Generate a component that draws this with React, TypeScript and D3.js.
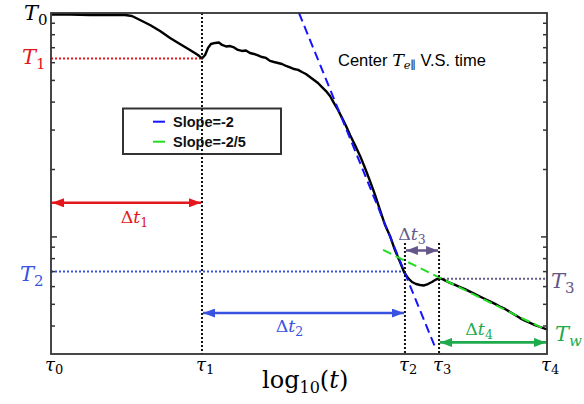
import React from 'react';
import * as d3 from 'd3';

// Centre parallel electron temperature vs. log10(t)
const logTime = [
  0.005, 0.104, 0.214, 0.324, 0.406, 0.444, 0.488, 0.543, 0.598, 0.653, 0.707, 0.762, 0.806, 0.828,
  0.845, 0.861, 0.877, 0.9, 0.921, 0.938, 0.96, 0.982, 1.004, 1.025, 1.047, 1.069, 1.091, 1.113,
  1.135, 1.157, 1.179, 1.201, 1.223, 1.245, 1.267, 1.289, 1.311, 1.333, 1.355, 1.376, 1.398, 1.42,
  1.442, 1.464, 1.486, 1.508, 1.53, 1.552, 1.574, 1.596, 1.618, 1.64, 1.667, 1.695, 1.722, 1.749,
  1.777, 1.804, 1.832, 1.859, 1.886, 1.914, 1.936, 1.958, 1.98, 2.002, 2.024, 2.046, 2.067, 2.089,
  2.111, 2.128, 2.144, 2.166, 2.188, 2.216, 2.243, 2.27, 2.298, 2.325, 2.352, 2.38, 2.407, 2.435,
  2.462, 2.49, 2.517, 2.545, 2.572, 2.599, 2.627, 2.654, 2.682, 2.72,
];
const tempCenter = [
  98.5, 98.5, 98.0, 98.0, 98.0, 97.0, 93.1, 88.4, 83.1, 77.3, 72.7, 68.4, 64.9, 62.7,
  64.9, 69.8, 72.7, 73.5, 73.8, 72.0, 70.9, 71.2, 70.2, 68.4, 67.7, 68.0, 66.3, 65.6,
  64.6, 63.6, 63.0, 61.1, 60.4, 59.8, 59.2, 58.0, 57.1, 56.2, 55.7, 54.5, 53.4, 51.8,
  50.2, 48.7, 46.7, 44.8, 42.6, 39.6, 36.9, 34.0, 31.3, 28.5, 25.7, 23.0, 20.3, 17.8,
  15.4, 13.2, 11.3, 10.1, 8.74, 7.73, 6.97, 6.55, 6.29, 6.16, 6.1, 6.07, 6.16, 6.29,
  6.45, 6.55, 6.49, 6.36, 6.23, 6.1, 5.97, 5.85, 5.7, 5.56, 5.42, 5.28, 5.15, 5.02,
  4.89, 4.77, 4.62, 4.48, 4.34, 4.23, 4.13, 4.04, 3.96, 3.86,
];

// Characteristic times (log10 t) and temperatures
const tauValues = [0, 0.828, 1.941, 2.128, 2.72];
const tauNames = ['0', '1', '2', '3', '4'];
const T1 = 62.7;
const T2 = 7.0;
const T3 = 6.5;
const Tw = 3.86;

// Power-law fits: log10 T = log10(anchorT) + slope * (logt - anchorLogT)
const fitLabels = ['Slope=-2', 'Slope=-2/5'];
const fitSlopes = [-2, -0.4];
const fitAnchorLogT = [1.36, 1.821];
const fitAnchorT = [100, 8.75];
const fitEndLogT = [2.11, 2.72];
const fitColors = ['#1414ff', '#22dd22'];

// Interval arrows: [from tau index, to tau index, temperature level]
const intervalFrom = [0, 1, 2, 3];
const intervalTo = [1, 2, 3, 4];
const intervalLevel = [14.2, 4.57, 8.7, 3.38];
const intervalNames = ['1', '2', '3', '4'];

const yTickValues = [4, 5, 6, 7, 8, 9, 10, 20, 30, 40, 50, 60, 70, 80, 90];

const RED = '#e4171d';
const BLUE = '#3852e2';
const PURPLE = '#65578a';
const GREEN = '#1fab4c';
const intervalColors = [RED, BLUE, PURPLE, GREEN];

const SERIF = "'DejaVu Serif', serif";
const SANS = "'Liberation Sans', Arial, sans-serif";

export default function App() {
  const x = d3.scaleLinear().domain([0, 2.72]).range([51, 547]);
  const y = d3.scaleLog().domain([3, 100]).range([354, 13]);
  const [x0, x1] = x.range();
  const [yb, yt] = y.range();

  const curve = d3
    .line<number>()
    .x((_, i) => x(logTime[i]))
    .y((_, i) => y(tempCenter[i]))(logTime);

  const fitLine = (k: number) => {
    const pts = [fitAnchorLogT[k], fitEndLogT[k]];
    return d3
      .line<number>()
      .x((t) => x(t))
      .y((t) => y(fitAnchorT[k] * Math.pow(10, fitSlopes[k] * (t - fitAnchorLogT[k]))))(pts);
  };

  const dotted = { stroke: '#111', strokeWidth: 2, strokeDasharray: '2,2' };

  const deltaLabelDx = [8, -14, -10, -14];
  const deltaLabelDy = [20, 19, -10, -7];

  const tLabel = (
    sub: string,
    color: string,
    px: number,
    py: number,
    key: string,
    subFont = 15
  ) => (
    <text key={key} x={px} y={py} fill={color} fontFamily={SERIF} fontSize={21} fontStyle="italic">
      T
      <tspan dy={5} fontSize={subFont} fontStyle={sub === 'w' ? 'italic' : 'normal'}>
        {sub}
      </tspan>
    </text>
  );

  return (
    <svg
      width={584}
      height={404}
      style={{ position: 'absolute', left: 0, top: 0, background: '#fff' }}
    >
      <defs>
        {intervalColors.map((c, i) => (
          <marker
            key={i}
            id={`arr${i}`}
            viewBox="0 0 12 9"
            refX={12}
            refY={4.5}
            markerWidth={12}
            markerHeight={9}
            markerUnits="userSpaceOnUse"
            orient="auto-start-reverse"
          >
            <path d="M0,0 L12,4.5 L0,9 Z" fill={c} />
          </marker>
        ))}
      </defs>

      {/* horizontal reference levels */}
      <line x1={x0} x2={x(tauValues[1])} y1={y(T1)} y2={y(T1)} stroke={RED} strokeWidth={2} strokeDasharray="2,2" />
      <line x1={x0} x2={x(tauValues[2])} y1={y(T2)} y2={y(T2)} stroke={BLUE} strokeWidth={2} strokeDasharray="2,2" />
      <line x1={x(tauValues[3])} x2={x1} y1={y(T3)} y2={y(T3)} stroke={PURPLE} strokeWidth={2} strokeDasharray="2,2" />

      {/* measured curve */}
      <path d={curve || ''} fill="none" stroke="#000" strokeWidth={2.4} strokeLinejoin="round" />

      {/* fits */}
      {fitLabels.map((_, k) => (
        <path key={k} d={fitLine(k) || ''} fill="none" stroke={fitColors[k]} strokeWidth={2} strokeDasharray="9,5" />
      ))}

      {/* legend */}
      <rect x={123} y={108.5} width={158} height={45.5} fill="#fff" stroke="#333" strokeWidth={2} />
      {fitLabels.map((lab, k) => (
        <g key={lab}>
          <line x1={153} x2={165} y1={121.7 + k * 20} y2={121.7 + k * 20} stroke={fitColors[k]} strokeWidth={2} />
          <text x={173} y={126.5 + k * 20} fontFamily={SANS} fontWeight="bold" fontSize={14.5} fill="#111">
            {lab}
          </text>
        </g>
      ))}

      {/* tau markers */}
      <line x1={x(tauValues[1])} x2={x(tauValues[1])} y1={yt} y2={yb} {...dotted} />
      <line x1={x(tauValues[2])} x2={x(tauValues[2])} y1={y(9.4)} y2={yb} {...dotted} />
      <line x1={x(tauValues[3])} x2={x(tauValues[3])} y1={y(9.4)} y2={yb} {...dotted} />

      {/* frame */}
      <rect x={x0} y={yt} width={x1 - x0} height={yb - yt} fill="none" stroke="#333" strokeWidth={1.8} />
      {yTickValues.map((v) => {
        const len = v === 10 ? 6 : 4;
        return (
          <g key={v}>
            <line x1={x0} x2={x0 + len} y1={y(v)} y2={y(v)} stroke="#333" strokeWidth={1.5} />
            <line x1={x1} x2={x1 - len} y1={y(v)} y2={y(v)} stroke="#333" strokeWidth={1.5} />
          </g>
        );
      })}

      {/* interval arrows */}
      {intervalFrom.map((f, i) => {
        const xa = x(tauValues[f]);
        const xb = x(tauValues[intervalTo[i]]);
        const ya = y(intervalLevel[i]);
        return (
          <g key={i}>
            <line
              x1={xa + 1}
              x2={xb - 1}
              y1={ya}
              y2={ya}
              stroke={intervalColors[i]}
              strokeWidth={2.6}
              markerStart={`url(#arr${i})`}
              markerEnd={`url(#arr${i})`}
            />
            <text
              x={(xa + xb) / 2 + deltaLabelDx[i]}
              y={ya + deltaLabelDy[i]}
              textAnchor="middle"
              fill={intervalColors[i]}
              fontFamily={SERIF}
              fontSize={17.5}
            >
              Δ<tspan fontStyle="italic">t</tspan>
              <tspan dy={4} fontSize={12.5}>
                {intervalNames[i]}
              </tspan>
            </text>
          </g>
        );
      })}

      {/* temperature labels */}
      {tLabel('0', '#000', 24, y(98.5) + 6, 'T0')}
      {tLabel('1', RED, 22, y(T1) + 6, 'T1')}
      {tLabel('2', BLUE, 20, y(T2) + 9, 'T2')}
      {tLabel('3', PURPLE, 551, y(T3) + 9, 'T3')}
      {tLabel('w', GREEN, 555, y(Tw) + 12, 'Tw')}

      {/* tau tick labels */}
      {tauValues.map((t, i) => (
        <text key={i} x={x(t) - 6} y={371} fontFamily={SERIF} fontSize={18} fill="#000">
          <tspan fontStyle="italic">τ</tspan>
          <tspan dy={3} fontSize={13}>
            {tauNames[i]}
          </tspan>
        </text>
      ))}

      {/* axis title */}
      <text x={262} y={388} fontFamily={SERIF} fontSize={24} fill="#000">
        log
        <tspan dy={5} fontSize={16}>
          10
        </tspan>
        <tspan dy={-5}>(</tspan>
        <tspan fontStyle="italic">t</tspan>)
      </text>

      {/* plot title */}
      <text x={338} y={66} fontFamily={SANS} fontSize={16.5} fill="#000">
        Center{' '}
        <tspan fontFamily={SERIF} fontStyle="italic" fontSize={17.5}>
          T
        </tspan>
        <tspan dy={3} fontFamily={SERIF} fontStyle="italic" fontSize={11.5}>
          e∥
        </tspan>
        <tspan dy={-3}> V.S. time</tspan>
      </text>
    </svg>
  );
}
